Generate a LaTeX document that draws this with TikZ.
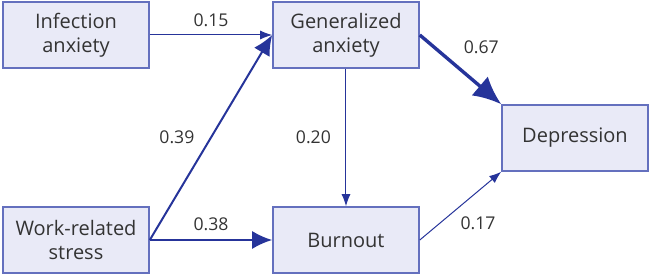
\documentclass[tikz,border=0pt]{standalone}
\usepackage{fontspec}
\setmainfont{Open Sans}
\usetikzlibrary{arrows.meta,positioning}
\definecolor{boxline}{HTML}{6470BE}
\definecolor{boxfill}{HTML}{E9EAF7}
\definecolor{pathblue}{HTML}{26349A}
\definecolor{txt}{HTML}{333333}
\tikzset{
  var/.style={draw=boxline, fill=boxfill, line width=0.8pt, minimum width=73pt,
    minimum height=33pt, align=center, text=txt, font=\fontsize{10}{12}\selectfont},
  coef/.style={text=txt, font=\fontsize{8.8}{10}\selectfont},
  thinpath/.style={draw=pathblue, line width=0.5pt, -{Latex[length=6pt,width=4.5pt]}},
  midpath/.style={draw=pathblue, line width=1pt, -{Latex[length=10pt,width=9pt]}},
  thickpath/.style={draw=pathblue, line width=1.7pt, -{Latex[length=14pt,width=12.5pt]}}
}
\begin{document}
\begin{tikzpicture}[x=0.5pt, y=-0.5pt]
\useasboundingbox (0,0) rectangle (650,276);
% The five variables
\node [var] (infect) at (76,35) {Infection\\anxiety};
\node [var] (genanx) at (346,35) {Generalized\\anxiety};
\node [var] (depress) at (575,138) {Depression};
\node [var] (work) at (76,240) {Work-related\\stress};
\node [var] (burnout) at (346,240) {Burnout};
% Paths with their coefficients
\draw [thinpath] (infect) -- node [coef, above=0.5pt] (c15) {0.15} (genanx);
\draw [midpath] (work.east) -- node [coef, left=4.5pt] (c39) {0.39} (genanx.west);
\draw [midpath] (work) -- node [coef, above=1pt] (c38) {0.38} (burnout);
\draw [thinpath] (genanx) -- node [coef, left=4pt] (c20) {0.20} (burnout);
\draw [thickpath] (genanx.east) -- node [coef, above right=3.5pt and -2.5pt] (c67) {0.67} (depress.north west);
\draw [thinpath] (burnout.east) -- node [coef, below right=2pt and -3.5pt] (c17) {0.17} (depress.south west);
\end{tikzpicture}
\end{document}
